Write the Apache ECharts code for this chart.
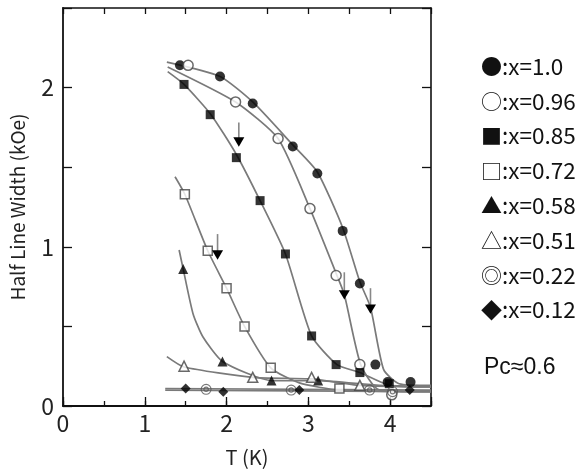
<!DOCTYPE html>
<html><head><meta charset="utf-8">
<script src="https://cdn.jsdelivr.net/npm/echarts@6/dist/echarts.min.js"></script>
<style>html,body{margin:0;padding:0;background:#fff}#c{width:587px;height:473px}</style>
</head><body><div id="c"></div>
<script>
// ---- data ----
const seriesNames = ['x=1.0','x=0.96','x=0.85','x=0.72','x=0.58','x=0.51','x=0.22','x=0.12'];
const legendGlyphs = ['●','○','■','□','▲','△','◎','◆'];
const xTickLabels = ['0','1','2','3','4'];
const yTickLabels = ['0','1','2'];

const t10  = [1.43,1.92,2.32,2.81,3.11,3.42,3.63,3.82,3.97,4.25];
const h10  = [2.14,2.07,1.90,1.63,1.46,1.10,0.77,0.26,0.15,0.15];
const t096 = [1.53,2.11,2.63,3.02,3.34,3.63,4.02];
const h096 = [2.14,1.91,1.68,1.24,0.82,0.26,0.07];
const t085 = [1.48,1.80,2.12,2.41,2.72,3.04,3.34,3.63,3.99];
const h085 = [2.02,1.83,1.56,1.29,0.955,0.44,0.26,0.21,0.14];
const t072 = [1.49,1.77,2.00,2.22,2.54,3.38];
const h072 = [1.33,0.975,0.74,0.50,0.24,0.11];
const t058 = [1.47,1.95,2.55,3.12];
const h058 = [0.86,0.28,0.16,0.16];
const t051 = [1.48,2.32,3.04,3.63];
const h051 = [0.25,0.18,0.18,0.13];
const t022 = [1.75,2.79,3.75,4.03];
const h022 = [0.105,0.10,0.10,0.09];
const t012 = [1.50,1.96,2.89,4.24];
const h012 = [0.11,0.09,0.10,0.10];

// hand-drawn guide curves
const fitT10  = [1.27,1.92,2.32,2.81,3.11,3.42,3.63,3.76,3.92,4.11,4.5];
const fitH10  = [2.16,2.07,1.91,1.64,1.47,1.12,0.78,0.62,0.23,0.14,0.13];
const fitT096 = [1.28,2.11,2.63,3.02,3.35,3.44,3.64,3.87,4.5];
const fitH096 = [2.13,1.91,1.68,1.24,0.82,0.70,0.26,0.10,0.09];
const fitT085 = [1.28,1.48,1.81,2.12,2.41,2.72,3.04,3.35,3.63,3.99,4.5];
const fitH085 = [2.10,2.02,1.83,1.58,1.29,0.955,0.44,0.26,0.21,0.13,0.12];
const fitT072 = [1.37,1.49,1.77,2.00,2.22,2.54,2.89,3.38,4.5];
const fitH072 = [1.44,1.33,0.975,0.74,0.50,0.24,0.145,0.10,0.09];
const fitT058 = [1.42,1.47,1.59,1.71,1.95,2.55,3.12,3.87,4.5];
const fitH058 = [0.98,0.86,0.58,0.435,0.28,0.16,0.16,0.13,0.125];
const fitT051 = [1.27,1.48,2.32,3.04,3.63,4.5];
const fitH051 = [0.31,0.245,0.18,0.17,0.13,0.12];
const fitT022 = [1.25,4.5];
const fitH022 = [0.11,0.10];
const fitT012 = [1.25,4.5];
const fitH012 = [0.10,0.09];

// points with error bars (inverted triangles)
const errT   = [2.15,1.89,3.44,3.76];
const errH   = [1.66,0.95,0.70,0.61];
const errTop = [1.78,1.08,0.84,0.74];

const pcText = 'Pc≈0.6';
// ---------------------------------------

const FONT = '"Noto Sans CJK JP", "Noto Sans", sans-serif';
const zip = (a,b) => a.map((v,i)=>[v,b[i]]);
const pts = [[t10,h10],[t096,h096],[t085,h085],[t072,h072],[t058,h058],[t051,h051],[t022,h022],[t012,h012]];
const fits = [[fitT10,fitH10],[fitT096,fitH096],[fitT085,fitH085],[fitT072,fitH072],[fitT058,fitH058],[fitT051,fitH051],[fitT022,fitH022],[fitT012,fitH012]];

const ring = 'path://M0,-10A10,10,0,1,1,0,10A10,10,0,1,1,0,-10ZM0,-8A8,8,0,1,0,0,8A8,8,0,1,0,0,-8ZM0,-5A5,5,0,1,1,0,5A5,5,0,1,1,0,-5ZM0,-3A3,3,0,1,0,0,3A3,3,0,1,0,0,-3Z';
const markerStyles = [
  {symbol:'circle', size:10, item:{color:'#000'}},
  {symbol:'circle', size:10, item:{color:'#fff', borderColor:'#444', borderWidth:1.5}},
  {symbol:'rect', size:9, item:{color:'#000'}},
  {symbol:'rect', size:9, item:{color:'#fff', borderColor:'#444', borderWidth:1.5}},
  {symbol:'triangle', size:10, item:{color:'#000'}},
  {symbol:'triangle', size:10, item:{color:'#fff', borderColor:'#444', borderWidth:1.5}},
  {symbol:ring, size:11, item:{color:'#555'}},
  {symbol:'diamond', size:10, item:{color:'#000'}}
];

const series = [];
fits.forEach((f,i)=>{
  series.push({name:'fit '+seriesNames[i], type:'line', data:zip(f[0],f[1]), smooth:0.2,
    symbol:'none', lineStyle:{color:'#7a7a7a', width:1.7}, silent:true, z:1});
});
pts.forEach((p,i)=>{
  const m = markerStyles[i];
  series.push({name:seriesNames[i], type:'scatter', data:zip(p[0],p[1]), symbol:m.symbol, symbolSize:m.size,
    itemStyle:m.item, z:3});
});
series.push({name:'error', type:'custom', z:4,
  data: errT.map((t,i)=>[t, errH[i], errTop[i]]),
  renderItem(params, api){
    const p = api.coord([api.value(0), api.value(1)]);
    const q = api.coord([api.value(0), api.value(2)]);
    const s = 5.5;
    return {type:'group', children:[
      {type:'line', shape:{x1:p[0], y1:q[1], x2:p[0], y2:p[1]}, style:{stroke:'#888', lineWidth:1.6}},
      {type:'polygon', shape:{points:[[p[0]-s,p[1]-s*0.8],[p[0]+s,p[1]-s*0.8],[p[0],p[1]+s*0.9]]}, style:{fill:'#000'}}
    ]};
  }
});

const axisColor = '#111';
const intLabel = (labels) => (v) => { const s = String(v); return labels.includes(s) ? s : ''; };

const option = {
  animation:false,
  backgroundColor:'#fff',
  grid:{left:63, top:8, width:368, height:398},
  xAxis:[
    {type:'value', min:0, max:4.5, interval:1, position:'bottom',
     axisLine:{show:true, onZero:false, lineStyle:{color:axisColor, width:1.8}},
     axisTick:{show:true, inside:true, length:9, lineStyle:{color:axisColor, width:1.3}},
     axisLabel:{fontSize:23, margin:6, color:'#222', fontFamily:FONT, formatter:intLabel(xTickLabels)},
     splitLine:{show:false},
     name:'T (K)', nameLocation:'middle', nameGap:41,
     nameTextStyle:{fontSize:20, color:'#222', fontFamily:FONT}},
    {type:'value', min:0, max:4.5, interval:0.5, position:'bottom',
     axisLine:{show:false}, axisTick:{show:true, inside:true, length:5, lineStyle:{color:axisColor, width:1.3}},
     axisLabel:{show:false}, splitLine:{show:false}},
    {type:'value', min:0, max:4.5, interval:0.5, position:'top',
     axisLine:{show:true, onZero:false, lineStyle:{color:axisColor, width:1.6}},
     axisTick:{show:true, inside:true, length:6, lineStyle:{color:axisColor, width:1.3}},
     axisLabel:{show:false}, splitLine:{show:false}}
  ],
  yAxis:[
    {type:'value', min:0, max:2.5, interval:0.5, position:'left',
     axisLine:{show:true, onZero:false, lineStyle:{color:axisColor, width:1.8}},
     axisTick:{show:true, inside:true, length:9, lineStyle:{color:axisColor, width:1.3}},
     axisLabel:{fontSize:23, margin:9, color:'#222', fontFamily:FONT, formatter:intLabel(yTickLabels)},
     splitLine:{show:false},
     name:'Half Line Width (kOe)', nameLocation:'middle', nameGap:36,
     nameTextStyle:{fontSize:19, color:'#222', fontFamily:FONT}},
    {type:'value', min:0, max:2.5, interval:0.5, position:'right',
     axisLine:{show:true, onZero:false, lineStyle:{color:axisColor, width:1.6}},
     axisTick:{show:true, inside:true, length:9, lineStyle:{color:axisColor, width:1.3}},
     axisLabel:{show:false}, splitLine:{show:false}}
  ],
  legend:{orient:'vertical', left:474, top:55, width:113, height:300, padding:0,
    itemWidth:1, itemHeight:1, icon:'rect', itemStyle:{opacity:0}, itemGap:12.3, selectedMode:false,
    data:seriesNames,
    formatter:(n)=> '{g|' + legendGlyphs[seriesNames.indexOf(n)] + '}{t|:' + n + '}',
    textStyle:{fontSize:21, lineHeight:20.4, color:'#111', fontFamily:FONT,
      rich:{g:{fontSize:21, lineHeight:20.4, fontFamily:FONT, color:'#111'},
            t:{fontSize:22.5, lineHeight:20.4, fontFamily:FONT, color:'#111'}}}},
  graphic:[{type:'text', left:484, top:356, style:{text:pcText, fontSize:23, fill:'#111', font:'23px '+FONT}}],
  series
};
const chart = echarts.init(document.getElementById('c'), null, {renderer:'canvas'});
chart.setOption(option);
</script></body></html>
